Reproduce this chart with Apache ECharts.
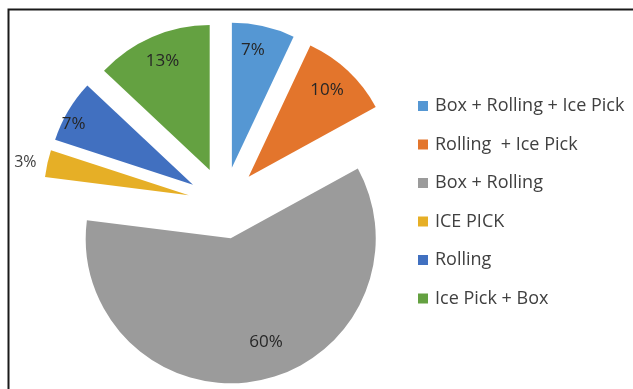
<!DOCTYPE html>
<html><head><meta charset="utf-8">
<script src="https://cdn.jsdelivr.net/npm/echarts@6/dist/echarts.min.js"></script>
<style>html,body{margin:0;padding:0;background:#fff}#c{width:633px;height:389px}</style>
</head><body><div id="c"></div>
<script>
var categories = ['Box + Rolling + Ice Pick', 'Rolling  + Ice Pick', 'Box + Rolling', 'ICE PICK', 'Rolling', 'Ice Pick + Box'];
var values = [7, 10, 60, 3, 7, 13];
var colors = ['#5597D3', '#E3752C', '#9B9B9B', '#E6AF26', '#4170C0', '#64A141'];

var chart = echarts.init(document.getElementById('c'), null, {renderer: 'canvas'});
// label nudges expressed as padding [top, right, bottom, left]
var labelPads = {0: [0, 10, 0, 0], 1: [0, 6, 0, 0], 2: [0, 0, 0, 26], 4: [0, 34, 0, 0]};
var mainData = categories.map(function (n, i) {
  var d = {name: n, value: values[i], selected: true, itemStyle: {color: colors[i]}};
  if (i === 3) {
    d.label = {show: true, position: 'outside', formatter: '{c}%', color: '#404040', fontSize: 16};
    d.labelLine = {show: false, length: 6, length2: 0};
  }
  return d;
});
var labelData = categories.map(function (n, i) {
  var d = {name: n, value: values[i], selected: true};
  d.label = {show: i !== 3, padding: labelPads[i] || 0};
  if (i === 2) d.label.formatter = '{c}%\n{s|}';
  if (i === 0) d.label.formatter = '{c}%\n{t|}';
  return d;
});
var center = [224, 203];
chart.setOption({
  animation: false,
  legend: {
    orient: 'vertical', left: 413, top: 92,
    itemWidth: 10, itemHeight: 10, itemGap: 20.5, icon: 'rect',
    textStyle: {fontFamily: 'Open Sans', fontSize: 18, color: '#404040', padding: [0, 0, 0, 2]},
    data: categories
  },
  graphic: [{type: 'rect', shape: {x: 8.5, y: 9.5, width: 700, height: 500}, style: {fill: 'none', stroke: '#1a1a1a', lineWidth: 2}, silent: true, z: 100}],
  series: [{
    type: 'pie', center: center, radius: [0, 145], startAngle: 90, clockwise: true,
    selectedMode: 'multiple', selectedOffset: 36, avoidLabelOverlap: false,
    label: {show: false, fontFamily: 'Open Sans', fontSize: 16},
    labelLine: {show: false},
    emphasis: {disabled: true},
    data: mainData
  }, {
    type: 'pie', center: center, radius: [87, 145], startAngle: 90, clockwise: true,
    selectedMode: 'multiple', selectedOffset: 36, avoidLabelOverlap: false, silent: true,
    itemStyle: {color: 'rgba(0,0,0,0)'},
    label: {show: true, position: 'inside', formatter: '{c}%', fontFamily: 'Open Sans', fontSize: 17, color: '#262626',
      rich: {s: {height: 26, fontSize: 10}, t: {height: 4, fontSize: 4}}},
    labelLine: {show: false},
    emphasis: {disabled: true},
    legendHoverLink: false,
    data: labelData
  }]
});
</script></body></html>
